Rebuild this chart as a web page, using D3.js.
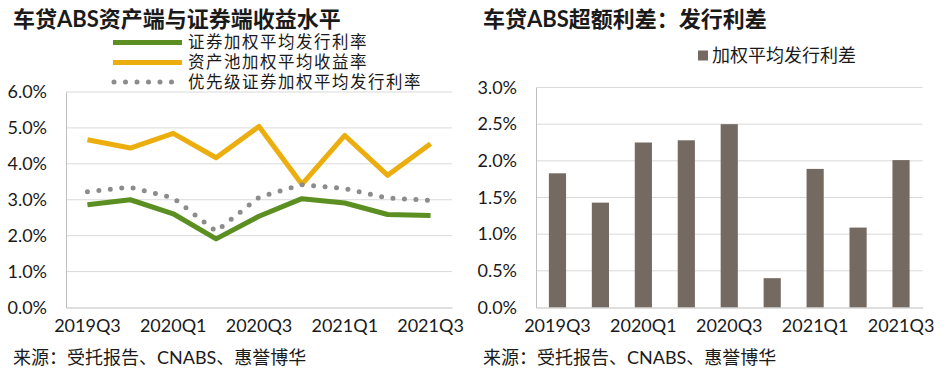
<!DOCTYPE html>
<html><head><meta charset="utf-8">
<script src="https://cdn.jsdelivr.net/npm/d3@7"></script>
<style>
body{margin:0;background:#fff;}
text{font-family:Lato,"Noto Sans CJK SC",sans-serif;fill:#1a1a1a;}
</style></head>
<body><svg id="c" width="949" height="379"></svg>
<script>
const categories = ["2019Q3","2019Q4","2020Q1","2020Q2","2020Q3","2020Q4","2021Q1","2021Q2","2021Q3"];
const tickLabels = ["2019Q3","2020Q1","2020Q3","2021Q1","2021Q3"];
const securitiesRate = [2.86,3.00,2.61,1.91,2.54,3.03,2.91,2.59,2.56];
const poolYield = [4.67,4.44,4.85,4.17,5.04,3.43,4.79,3.68,4.56];
const seniorRate = [3.22,3.35,3.05,2.12,3.07,3.42,3.31,3.05,2.98];
const spread = [1.83,1.43,2.25,2.28,2.50,0.40,1.89,1.09,2.01];
const leftTicks = [0,1,2,3,4,5,6];
const rightTicks = [0,0.5,1,1.5,2,2.5,3];
const seriesNames = ["证券加权平均发行利率","资产池加权平均收益率","优先级证券加权平均发行利率"];
const barName = "加权平均发行利差";

const svg = d3.select("#c");
const fontCJK = 'Lato,"Noto Sans CJK SC",sans-serif';

// ---------- Left panel ----------
const L = {x0:66, x1:452, y0:307.5, y1:92};
const xL = d3.scaleBand().domain(categories).range([L.x0,L.x1]);
const yL = d3.scaleLinear().domain([0,6]).range([L.y0,L.y1]);

svg.append("text").attr("x",13).attr("y",27).attr("font-size",22).attr("font-weight","bold")
  .style("font-family",fontCJK).text("车贷ABS资产端与证券端收益水平");

const gL = svg.append("g");
gL.selectAll("line.grid").data(leftTicks.filter(d=>d>0)).join("line")
  .attr("x1",L.x0).attr("x2",L.x1).attr("y1",d=>yL(d)).attr("y2",d=>yL(d))
  .attr("stroke","#d9d9d9").attr("stroke-width",1);
const axLY = gL.append("g").attr("transform",`translate(${L.x0},0)`)
  .call(d3.axisLeft(yL).tickValues(leftTicks).tickFormat(d=>d.toFixed(1)+"%").tickSize(0).tickPadding(19));
axLY.select(".domain").attr("stroke","#bfbfbf");
axLY.selectAll("text").attr("font-size",18).attr("fill","#1a1a1a").style("font-family",fontCJK);
const axLX = gL.append("g").attr("transform",`translate(0,${L.y0})`)
  .call(d3.axisBottom(xL).tickValues(tickLabels).tickSize(0).tickPadding(12));
axLX.select(".domain").attr("stroke","#bfbfbf");
axLX.selectAll("text").attr("font-size",18).attr("fill","#1a1a1a").style("font-family",fontCJK);

const line = d3.line().x((d,i)=>xL(categories[i])+xL.bandwidth()/2).y(d=>yL(d));
gL.append("path").datum(poolYield).attr("d",line).attr("fill","none")
  .attr("stroke","#ecae0e").attr("stroke-width",5).attr("stroke-linejoin","round");
gL.append("path").datum(seniorRate).attr("d",line).attr("fill","none")
  .attr("stroke","#8c8c8c").attr("stroke-width",5).attr("stroke-linecap","round")
  .attr("stroke-dasharray","0 11.5");
gL.append("path").datum(securitiesRate).attr("d",line).attr("fill","none")
  .attr("stroke","#5b8f22").attr("stroke-width",5).attr("stroke-linejoin","round");

// legend left
const legColors = ["#5b8f22","#ecae0e","#8c8c8c"];
const legY = [42.5,62.5,82];
seriesNames.forEach((n,i)=>{
  const ln = svg.append("line").attr("x1",113).attr("x2",182).attr("y1",legY[i]).attr("y2",legY[i])
    .attr("stroke",legColors[i]).attr("stroke-width",5);
  if(i===2) ln.attr("stroke-linecap","round").attr("stroke-dasharray","0 11.5").attr("x1",114);
  svg.append("text").attr("x",188).attr("y",legY[i]).attr("dy","0.35em").attr("font-size",16.5)
    .attr("letter-spacing","1.5px").style("font-family",fontCJK).text(n);
});

svg.append("text").attr("x",13).attr("y",358).attr("dy","0.35em").attr("font-size",18)
  .style("font-family",fontCJK).text("来源：受托报告、CNABS、惠誉博华");

// ---------- Right panel ----------
const R = {x0:536, x1:922.5, y0:307.5, y1:87.5};
const xR = d3.scaleBand().domain(categories).range([R.x0,R.x1]).paddingInner(0.6).paddingOuter(0.3);
const yR = d3.scaleLinear().domain([0,3]).range([R.y0,R.y1]);

svg.append("text").attr("x",483).attr("y",27).attr("font-size",22).attr("font-weight","bold")
  .style("font-family",fontCJK).text("车贷ABS超额利差：发行利差");

const gR = svg.append("g");
gR.selectAll("line.grid").data(rightTicks.filter(d=>d>0)).join("line")
  .attr("x1",R.x0).attr("x2",R.x1).attr("y1",d=>yR(d)).attr("y2",d=>yR(d))
  .attr("stroke","#d9d9d9").attr("stroke-width",1);
const axRY = gR.append("g").attr("transform",`translate(${R.x0},0)`)
  .call(d3.axisLeft(yR).tickValues(rightTicks).tickFormat(d=>d.toFixed(1)+"%").tickSize(0).tickPadding(19));
axRY.select(".domain").attr("stroke","#bfbfbf");
axRY.selectAll("text").attr("font-size",18).attr("fill","#1a1a1a").style("font-family",fontCJK);

gR.selectAll("rect.bar").data(spread).join("rect")
  .attr("x",(d,i)=>xR(categories[i])).attr("width",xR.bandwidth())
  .attr("y",d=>yR(d)).attr("height",d=>R.y0-yR(d)).attr("fill","#756a62");

const axRX = gR.append("g").attr("transform",`translate(0,${R.y0})`)
  .call(d3.axisBottom(xR).tickValues(tickLabels).tickSize(0).tickPadding(12));
axRX.select(".domain").attr("stroke","#bfbfbf");
axRX.selectAll("text").attr("font-size",18).attr("fill","#1a1a1a").style("font-family",fontCJK);

svg.append("rect").attr("x",698).attr("y",50.5).attr("width",10).attr("height",10).attr("fill","#756a62");
svg.append("text").attr("x",712).attr("y",56).attr("dy","0.35em").attr("font-size",18)
  .style("font-family",fontCJK).text(barName);

svg.append("text").attr("x",483).attr("y",358).attr("dy","0.35em").attr("font-size",18)
  .style("font-family",fontCJK).text("来源：受托报告、CNABS、惠誉博华");
</script></body></html>
